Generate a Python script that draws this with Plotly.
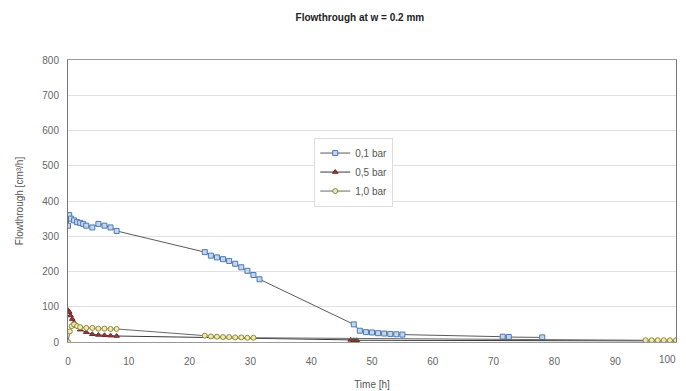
import plotly.graph_objects as go

t_01 = [0, 0.2, 0.5, 1, 1.5, 2, 2.5, 3, 4, 5, 6, 7, 8,
        22.5, 23.5, 24.5, 25.5, 26.5, 27.5, 28.5, 29.5, 30.5, 31.5,
        47, 48, 49, 50, 51, 52, 53, 54, 55, 71.5, 72.5, 78]
v_01 = [330, 360, 350, 345, 340, 338, 335, 330, 325, 335, 330, 325, 315,
        255, 245, 240, 235, 230, 222, 212, 202, 190, 178,
        50, 32, 28, 27, 25, 24, 23, 22, 21, 15, 14, 13]

t_05 = [0, 0.2, 0.4, 0.7, 1, 1.5, 2, 3, 4, 5, 6, 7, 8, 46.5, 47, 47.5, 100]
v_05 = [90, 85, 75, 65, 55, 45, 35, 28, 22, 20, 19, 18, 17, 6, 5, 5, 3]

t_10 = [0, 0.3, 0.6, 1, 1.5, 2, 3, 4, 5, 6, 7, 8,
        22.5, 23.5, 24.5, 25.5, 26.5, 27.5, 28.5, 29.5, 30.5,
        95, 96, 97, 98, 99, 100]
v_10 = [0, 30, 45, 50, 45, 42, 40, 40, 38, 38, 37, 37,
        18, 16, 15, 14, 14, 13, 13, 12, 12,
        5, 5, 5, 5, 5, 5]

series_names = ["0,1 bar", "0,5 bar", "1,0 bar"]
x_ticks = [0, 10, 20, 30, 40, 50, 60, 70, 80, 90, 100]
x_ticklabels = ["0", "10", "20", "30", "40", "50", "60", "70", "80", "90", "100"]

fig = go.Figure()
fig.add_trace(go.Scatter(
    x=t_01, y=v_01, name=series_names[0], mode="lines+markers",
    line=dict(color="#5a5a5a", width=1),
    marker=dict(symbol="square", size=5, color="#c4d6ec",
                line=dict(color="#4f79b0", width=1))))
fig.add_trace(go.Scatter(
    x=t_05, y=v_05, name=series_names[1], mode="lines+markers",
    line=dict(color="#3a3a3a", width=1),
    marker=dict(symbol="triangle-up", size=5, color="#9a3b3b",
                line=dict(color="#6e2a2a", width=1))))
fig.add_trace(go.Scatter(
    x=t_10, y=v_10, name=series_names[2], mode="lines+markers",
    line=dict(color="#6a6a6a", width=1),
    marker=dict(symbol="circle", size=5, color="#f0eab0",
                line=dict(color="#8f8a3a", width=1))))

# last tick label drawn as annotation so it stays fully inside the picture
fig.add_annotation(x=x_ticks[-1], y=0, xref="x", yref="y", text=x_ticklabels[-1],
                   showarrow=False, xanchor="right", yanchor="top", xshift=2, yshift=-10,
                   font=dict(size=10, color="#666"))

fig.update_layout(
    width=678, height=383,
    margin=dict(l=60, r=10, t=52, b=49),
    paper_bgcolor="white", plot_bgcolor="white",
    font=dict(family="Liberation Sans, Arial, sans-serif", size=10, color="#555"),
    title=dict(text="<b>Flowthrough at w = 0.2 mm</b>", x=0.519, xanchor="center",
               y=0.976, yanchor="middle",
               font=dict(size=10, color="#222", family="Liberation Sans, Arial, sans-serif")),
    legend=dict(x=0.405, y=0.725, xanchor="left", yanchor="top",
                bgcolor="white", bordercolor="#dddddd", borderwidth=1,
                font=dict(size=10, color="#555"), itemwidth=30, tracegroupgap=0),
    showlegend=True,
)
fig.update_xaxes(range=[0, 100], tickvals=x_ticks,
                 ticktext=x_ticklabels[:-1] + [""],
                 showgrid=False, zeroline=False, automargin=False,
                 showline=True, linecolor="#999", linewidth=1, mirror=True,
                 ticks="", tickfont=dict(size=10, color="#666"),
                 ticklabelstandoff=10,
                 title=dict(text="Time [h]", font=dict(size=10, color="#555"), standoff=14))
fig.update_yaxes(range=[0, 800], dtick=100, showgrid=True, gridcolor="#e2e2e2", automargin=False,
                 zeroline=False, showline=True, linecolor="#777", linewidth=1, mirror=True,
                 ticks="", tickfont=dict(size=10, color="#666"), ticklabelstandoff=6,
                 title=dict(text="Flowthrough [cm³/h]", font=dict(size=10, color="#555"), standoff=16))

fig.write_html("out.html")
